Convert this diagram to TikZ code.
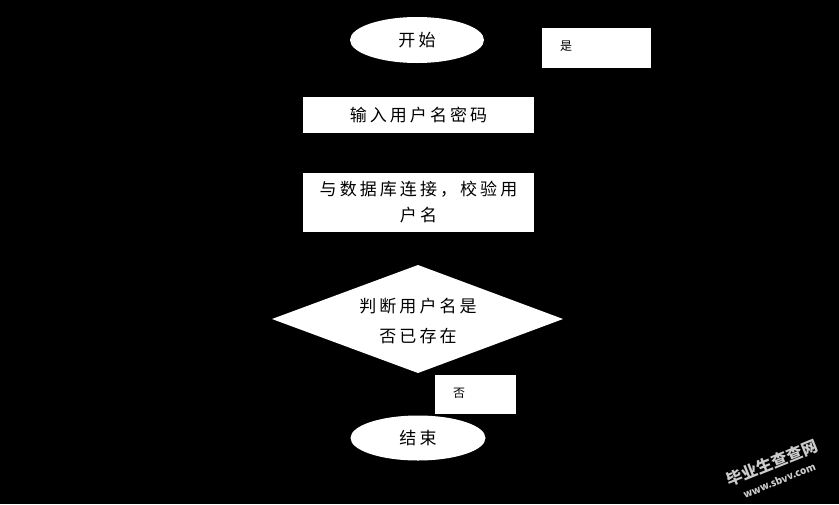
\documentclass[tikz,border=0pt]{standalone}
\usepackage{fontspec}
\usepackage{tikz}
\usetikzlibrary{shapes.geometric}
\newfontfamily\cjk{Noto Sans CJK SC}[LetterSpace=18]
\newfontfamily\cjkmark{Noto Sans CJK SC}
\tikzset{
  boxnode/.style={draw=none,fill=white,inner sep=0pt,font=\cjk\fontsize{17}{26}\selectfont,align=center},
  endnode/.style={ellipse,fill=white,inner sep=0pt,font=\cjk\fontsize{17}{22}\selectfont},
  tagnode/.style={fill=white,inner sep=0pt,font=\cjk\fontsize{12}{14}\selectfont}
}
\begin{document}
\begin{tikzpicture}[x=1pt,y=-1pt]
  % Background
  \fill[black] (0,0) rectangle (839,504);
  \useasboundingbox (0,0) rectangle (839,504);
  % Start and end
  \node[endnode,minimum width=134pt,minimum height=46pt] (start) at (417,40) {开始};
  \node[endnode,minimum width=135pt,minimum height=45pt] (stop) at (418,438) {结束};
  % Process boxes
  \node[boxnode,minimum width=231pt,minimum height=36pt] (input) at (418.5,115) {输入用户名密码};
  \node[boxnode,minimum width=231pt,minimum height=59pt] (check) at (418.5,202.5) {与数据库连接，校验用\\户名};
  % Decision
  \fill[white] (272,319) -- (418,265) -- (563,319) -- (418,373) -- cycle;
  \node[font=\cjk\fontsize{17}{30}\selectfont,align=center] (exists) at (418,321) {判断用户名是\\否已存在};
  % Branch labels
  \node[tagnode,minimum width=109pt,minimum height=40pt] (yesbox) at (596.5,48) {};
  \node[font=\cjk\fontsize{12}{14}\selectfont] (yes) at (566,46) {是};
  \node[tagnode,minimum width=81pt,minimum height=39pt] (nobox) at (475.5,394.5) {};
  \node[font=\cjk\fontsize{12}{14}\selectfont] (no) at (459,393) {否};
  % Watermark
  \node[white!80!black,rotate=22,font=\cjkmark\bfseries\fontsize{16}{18}\selectfont,align=center] (mark) at (775,470) {毕业生查查网\\[-1pt]{\fontsize{10}{11}\selectfont www.sbvv.com}};
\end{tikzpicture}
\end{document}
